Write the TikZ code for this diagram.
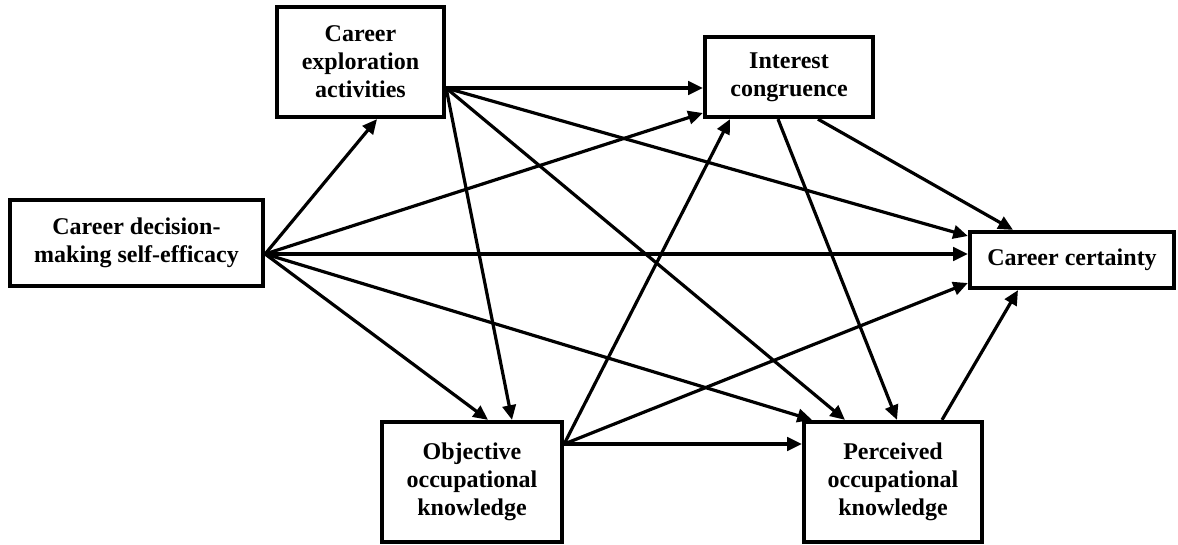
\documentclass[tikz,border=0pt]{standalone}
\usepackage{fontspec}
\setmainfont{Liberation Serif}
\usetikzlibrary{arrows.meta,calc}
\tikzset{
  box/.style={draw=black, line width=3.2pt, fill=white, inner sep=0pt, align=center,
    font=\fontsize{18pt}{21pt}\selectfont\bfseries},
  path/.style={line width=2.4pt, -{Triangle[length=11pt,width=10pt]}},
}
\begin{document}
\begin{tikzpicture}[x=0.75pt,y=-0.75pt]
\useasboundingbox (0,0) rectangle (1178,544);
\node[box, minimum width=189.75pt, minimum height=64.5pt] (cdmse) at (136.5,243) {Career decision-\\making self-efficacy};
\node[box, minimum width=125.25pt, minimum height=82.5pt] (cea) at (360.5,62) {Career\\exploration\\activities};
\node[box, minimum width=126pt, minimum height=60pt] (ic) at (789,77) {Interest\\congruence};
\node[box, minimum width=153pt, minimum height=42pt] (cc) at (1072,260) {Career certainty};
\node[box, minimum width=135pt, minimum height=90pt] (ook) at (472,482) {Objective\\occupational\\knowledge};
\node[box, minimum width=133.5pt, minimum height=90pt] (pok) at (893,482) {Perceived\\occupational\\knowledge};
% source points
\coordinate (s1) at ($(cdmse.east)+(0,11)$);
\coordinate (s2) at ($(cea.east)+(0,26)$);
\coordinate (s3) at ($(ook.east)+(0,-38)$);
% from self-efficacy
\draw[path] (s1) -- ($(cea.south)+(16.5,0)$);
\draw[path] (s1) -- ($(ic.west)+(0,36)$);
\draw[path] (s1) -- ($(cc.west)+(0,-6)$);
\draw[path] (s1) -- ($(ook.north)+(16,0)$);
\draw[path] (s1) -- ($(pok.north)+(-81,0)$);
% from exploration
\draw[path] (s2) -- ($(ic.west)+(0,11)$);
\draw[path] (s2) -- ($(cc.west)+(0,-24)$);
\draw[path] (s2) -- ($(ook.north)+(40,0)$);
\draw[path] (s2) -- ($(pok.north)+(-48,0)$);
% from interest congruence
\draw[path] ($(ic.south)+(-11,0)$) -- ($(pok.north)+(4,0)$);
\draw[path] ($(ic.south)+(29,0)$) -- ($(cc.north)+(-59,0)$);
% from objective knowledge
\draw[path] (s3) -- ($(ic.south)+(-59,0)$);
\draw[path] (s3) -- ($(cc.west)+(0,23)$);
\draw[path] (s3) -- (s3 -| pok.west);
% from perceived knowledge
\draw[path] ($(pok.north)+(49,0)$) -- ($(cc.south)+(-54,0)$);
\end{tikzpicture}
\end{document}
